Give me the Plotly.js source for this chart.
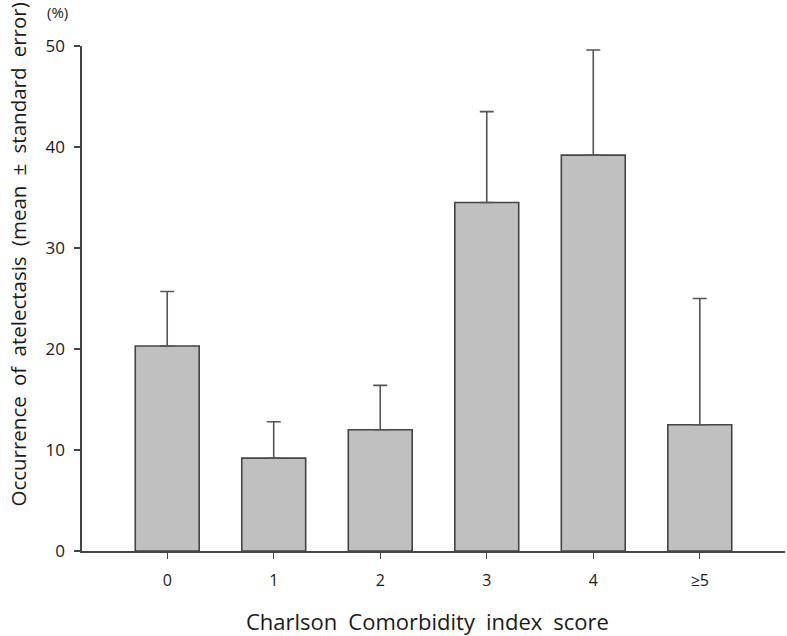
<!DOCTYPE html>
<html>
<head>
<meta charset="utf-8">
<script src="https://cdn.plot.ly/plotly-3.0.1.min.js"></script>
<style>html,body{margin:0;padding:0;background:#fff;}#chart{width:787px;height:636px;}</style>
</head>
<body>
<div id="chart"></div>
<script>
var categories = ["0", "1", "2", "3", "4", "\u22655"];
var meanValues = [20.3, 9.2, 12.0, 34.5, 39.2, 12.5];
var stdErrors = [5.4, 3.6, 4.4, 9.0, 10.4, 12.5];
var yTickValues = [0, 10, 20, 30, 40, 50];

var FONT = "Open Sans, Noto Sans, sans-serif";
var SP = "\u2002";
var xIdx = categories.map(function (c, i) { return i; });

var trace = {
  type: "bar",
  x: xIdx,
  y: meanValues,
  width: 0.6,
  marker: { color: "#c0c0c0", line: { color: "#444444", width: 1.6 } },
  error_y: {
    type: "data",
    symmetric: false,
    array: stdErrors,
    arrayminus: stdErrors.map(function () { return 0; }),
    color: "#555555",
    thickness: 1.6,
    width: 7
  },
  hoverinfo: "none"
};

var layout = {
  width: 787,
  height: 636,
  margin: { l: 82, r: 2, t: 46, b: 84.5 },
  paper_bgcolor: "#ffffff",
  plot_bgcolor: "#ffffff",
  showlegend: false,
  font: { family: FONT, color: "#1a1a1a" },
  xaxis: {
    range: [-0.8, 5.8],
    tickmode: "array",
    tickvals: xIdx,
    ticktext: categories,
    ticks: "outside",
    ticklen: 6,
    tickwidth: 1.3,
    tickcolor: "#444444",
    showline: true,
    linecolor: "#444444",
    linewidth: 1.6,
    showgrid: false,
    zeroline: false,
    tickfont: { family: FONT, size: 16, color: "#1a1a1a" },
    ticklabelstandoff: 8
  },
  yaxis: {
    range: [0, 50],
    tickmode: "array",
    tickvals: yTickValues,
    ticktext: yTickValues.map(String),
    ticks: "outside",
    ticklen: 6,
    tickwidth: 1.3,
    tickcolor: "#444444",
    showline: true,
    linecolor: "#444444",
    linewidth: 1.6,
    showgrid: false,
    zeroline: false,
    tickfont: { family: FONT, size: 17, color: "#1a1a1a" },
    ticklabelstandoff: 6
  },
  annotations: [
    {
      text: ["Occurrence", "of", "atelectasis", "(mean", "\u00b1", "standard", "error)"].join(SP),
      xref: "paper", yref: "paper",
      x: 0, y: 0.587,
      xshift: -64,
      xanchor: "center", yanchor: "middle",
      textangle: -90,
      showarrow: false,
      font: { family: FONT, size: 20.5, color: "#1a1a1a" }
    },
    {
      text: "(%)",
      xref: "paper", yref: "paper",
      x: 0, y: 1,
      xshift: -25, yshift: 34,
      xanchor: "center", yanchor: "middle",
      showarrow: false,
      font: { family: FONT, size: 15, color: "#1a1a1a" }
    },
    {
      text: ["Charlson", "Comorbidity", "index", "score"].join(SP),
      xref: "paper", yref: "paper",
      x: 0.492, y: 0,
      yshift: -70,
      xanchor: "center", yanchor: "middle",
      showarrow: false,
      font: { family: FONT, size: 22, color: "#1a1a1a" }
    }
  ]
};

Plotly.newPlot("chart", [trace], layout, { displayModeBar: false, staticPlot: true });
</script>
</body>
</html>
